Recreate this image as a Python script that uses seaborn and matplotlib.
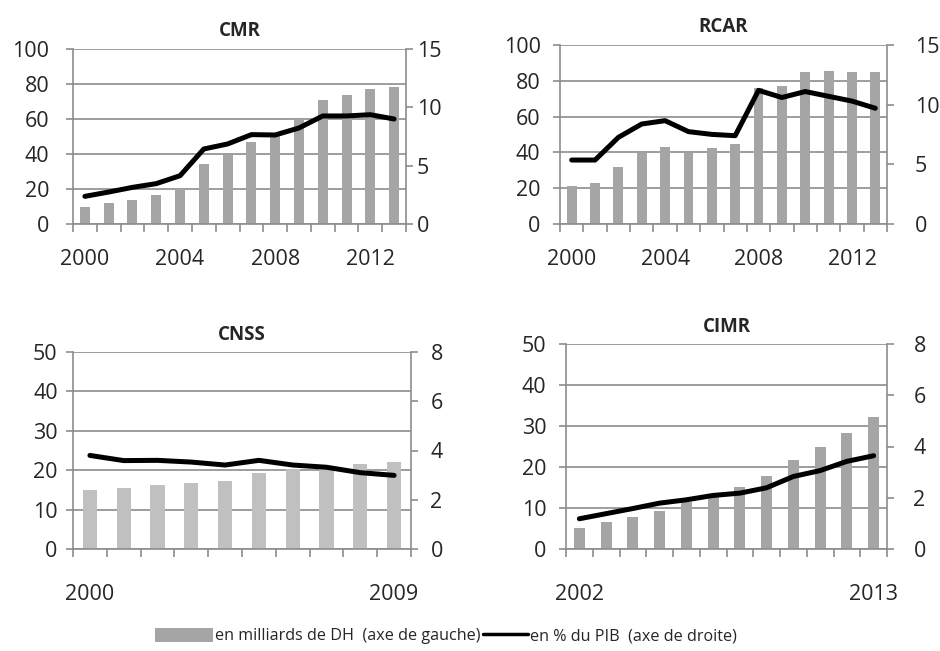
import numpy as np
import matplotlib.pyplot as plt
from matplotlib.patches import Patch
from matplotlib.lines import Line2D
import seaborn as sns


# CMR
cmr_years = [2000, 2001, 2002, 2003, 2004, 2005, 2006, 2007, 2008, 2009, 2010, 2011, 2012, 2013]
cmr_dh = [9.5, 11.8, 13.9, 16.4, 20.2, 34.1, 39.2, 47.0, 51.0, 60.0, 70.7, 73.9, 77.3, 78.5]
cmr_pib = [2.37, 2.74, 3.14, 3.46, 4.14, 6.43, 6.86, 7.66, 7.63, 8.23, 9.26, 9.26, 9.37, 9.0]
cmr_shown = [2000, 2004, 2008, 2012]

# RCAR
rcar_years = [2000, 2001, 2002, 2003, 2004, 2005, 2006, 2007, 2008, 2009, 2010, 2011, 2012, 2013]
rcar_dh = [21.4, 23.1, 32.0, 39.5, 43.0, 39.8, 42.6, 44.6, 76.2, 77.1, 84.7, 85.5, 84.7, 84.7]
rcar_pib = [5.36, 5.36, 7.26, 8.38, 8.66, 7.74, 7.51, 7.40, 11.2, 10.6, 11.1, 10.7, 10.3, 9.7]
rcar_shown = [2000, 2004, 2008, 2012]

# CNSS
cnss_years = [2000, 2001, 2002, 2003, 2004, 2005, 2006, 2007, 2008, 2009]
cnss_dh = [15.1, 15.5, 16.2, 16.8, 17.3, 19.2, 20.2, 20.3, 21.6, 22.2]
cnss_pib = [3.80, 3.59, 3.60, 3.53, 3.41, 3.60, 3.41, 3.32, 3.10, 2.99]
cnss_shown = [2000, 2009]

# CIMR
cimr_years = [2002, 2003, 2004, 2005, 2006, 2007, 2008, 2009, 2010, 2011, 2012, 2013]
cimr_dh = [5.2, 6.6, 7.8, 9.3, 11.4, 12.8, 15.2, 17.7, 21.6, 25.0, 28.4, 32.1]
cimr_pib = [1.18, 1.38, 1.58, 1.79, 1.92, 2.09, 2.18, 2.39, 2.83, 3.06, 3.42, 3.64]
cimr_shown = [2002, 2013]

label_bar = "en milliards de DH  (axe de gauche)"
label_line = "en % du PIB  (axe de droite)"

sns.set_theme(style="white")
plt.rcParams['font.family'] = ['Open Sans', 'DejaVu Sans']

GRID = '#8c8c8c'
TICK_FS = 15.5
W, H = 940, 651
fig = plt.figure(figsize=(W / 100, H / 100), dpi=100)


def px_rect(left, top, right, bottom):
    return [left / W, 1 - bottom / H, (right - left) / W, (bottom - top) / H]


def draw_panel(rect, title, years, dh, pib, shown, lmax, lstep, rmax, rstep,
               bar_color, lpad, rpad, xpad):
    ax = fig.add_axes(rect)
    n = len(years)
    sns.barplot(x=[str(y) for y in years], y=dh, ax=ax, color=bar_color,
                width=0.42, saturation=1, linewidth=0)
    ax2 = ax.twinx()
    sns.lineplot(x=np.arange(n), y=pib, ax=ax2, color='black', linewidth=3.6,
                 solid_capstyle='round', solid_joinstyle='round')

    ax.set_xlim(-0.5, n - 0.5)
    ax.set_ylim(0, lmax)
    ax.set_yticks(np.arange(0, lmax + 0.1, lstep))
    ax2.set_ylim(0, rmax)
    ax2.set_yticks(np.arange(0, rmax + 0.1, rstep))

    ax.set_xticks([years.index(y) for y in shown])
    ax.set_xticklabels([str(y) for y in shown])
    ax.set_xticks(np.arange(n + 1) - 0.5, minor=True)
    ax.tick_params(axis='x', which='major', length=0, pad=xpad, labelsize=TICK_FS)
    ax.tick_params(axis='x', which='minor', length=6, width=1.2, color=GRID,
                   direction='out', bottom=True)
    ax.tick_params(axis='y', length=5, width=1.2, color=GRID, pad=lpad,
                   labelsize=TICK_FS, left=True)
    ax2.tick_params(axis='y', length=5, width=1.2, color=GRID, pad=rpad,
                    labelsize=TICK_FS, right=True)

    ax.yaxis.grid(True, color=GRID, linewidth=1.2)
    ax.set_axisbelow(True)
    for s in ['top', 'right']:
        ax.spines[s].set_visible(False)
    for s in ['top', 'left', 'bottom']:
        ax2.spines[s].set_visible(False)
    for sp in [ax.spines['left'], ax.spines['bottom'], ax2.spines['right']]:
        sp.set_color(GRID)
        sp.set_linewidth(1.2)

    ax.set_xlabel('')
    ax.set_ylabel('')
    ax2.set_ylabel('')
    ax.set_title(title, fontsize=13.5, fontweight='bold', pad=9)
    return ax, ax2


draw_panel(px_rect(73, 49, 406, 224), 'CMR', cmr_years, cmr_dh, cmr_pib, cmr_shown,
           100, 20, 15, 5, '#a5a5a5', 12, 3, 18)
draw_panel(px_rect(560, 45, 887, 224), 'RCAR', rcar_years, rcar_dh, rcar_pib, rcar_shown,
           100, 20, 15, 5, '#a5a5a5', 9, 15, 18)
draw_panel(px_rect(73, 352, 411, 549), 'CNSS', cnss_years, cnss_dh, cnss_pib, cnss_shown,
           50, 10, 8, 2, '#c0c0c0', 6, 9, 25)
draw_panel(px_rect(566, 344, 887, 549), 'CIMR', cimr_years, cimr_dh, cimr_pib, cimr_shown,
           50, 10, 8, 2, '#a5a5a5', 9, 14, 25)

# two legends side by side so each key keeps its own length
leg_kw = dict(loc='center left', frameon=False, fontsize=11.6, handletextpad=0.1,
              borderpad=0, borderaxespad=0, handleheight=1.0)
leg1 = fig.legend([Patch(facecolor='#a5a5a5', edgecolor='none')], [label_bar],
                  bbox_to_anchor=(155 / W, 1 - 636 / H), handlelength=3.6, **leg_kw)
leg2 = fig.legend([Line2D([0], [0], color='black', linewidth=2.5)], [label_line],
                  bbox_to_anchor=(483 / W, 1 - 636 / H), handlelength=2.8, **leg_kw)

fig.savefig('out.png', dpi=100)
